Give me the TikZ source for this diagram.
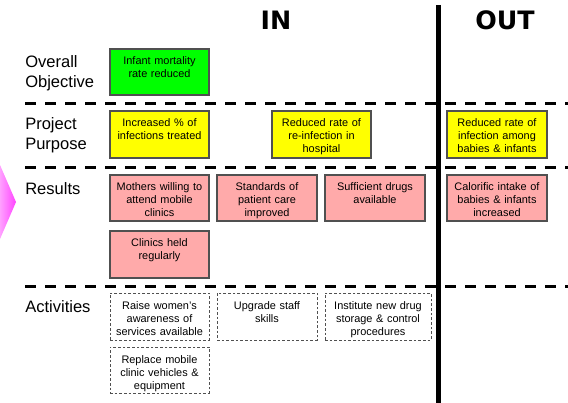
\documentclass[tikz,border=0pt]{standalone}
\usepackage{fontspec}
\setmainfont{Liberation Sans}
\newfontfamily\headfont{DejaVu Sans}
\usetikzlibrary{fit}
\definecolor{boxgreen}{HTML}{00FF00}
\definecolor{boxyellow}{HTML}{FFFF00}
\definecolor{boxpink}{HTML}{FFAAAA}
\definecolor{boxborder}{HTML}{505050}
\definecolor{chevlight}{HTML}{FFA0FF}
\definecolor{chevdark}{HTML}{FF44FF}
\tikzset{
  box/.style={draw=boxborder, line width=0.9pt, inner sep=0pt},
  greenbox/.style={box, fill=boxgreen},
  yellowbox/.style={box, fill=boxyellow},
  pinkbox/.style={box, fill=boxpink},
  actbox/.style={draw=boxborder, line width=0.6pt, dash pattern=on 2pt off 1.5pt, inner sep=0pt, fill=white},
  txt/.style={anchor=north, align=center, inner sep=0pt, text width=72pt,
    font=\fontsize{8.2}{9.8}\selectfont},
  rowlabel/.style={anchor=north west, align=left, inner sep=0pt,
    font=\fontsize{12.4}{15}\selectfont},
  head/.style={anchor=base, inner sep=0pt, font=\headfont\bfseries\fontsize{19}{20}\selectfont},
  sepline/.style={line width=2.25pt, dash pattern=on 8.25pt off 6.75pt},
  divider/.style={line width=3.75pt}
}
\begin{document}
\begin{tikzpicture}[x=0.75pt,y=-0.75pt]
\useasboundingbox (0,0) rectangle (568,403);
% chevron at left edge
\shade[left color=chevlight, right color=chevdark] (0,165) -- (16,202) -- (0,239) -- cycle;

% separators
\coordinate (s1a) at (25,104); \coordinate (s1b) at (568,104);
\coordinate (s2a) at (25,167); \coordinate (s2b) at (568,167);
\coordinate (s3a) at (25,286); \coordinate (s3b) at (568,286);
\draw[sepline] (s1a) -- (s1b);
\draw[sepline] (s2a) -- (s2b);
\draw[sepline] (s3a) -- (s3b);
\coordinate (vtop) at (438,5); \coordinate (vbot) at (438,403);
\draw[divider] (vtop) -- (vbot);

% headings
\node[head] (hin) at (276,30) {IN};
\node[head] (hout) at (505,30) {OUT};

% row labels
\node[rowlabel] (l1) at (25,55) {Overall\\Objective};
\node[rowlabel] (l2) at (25,117) {Project\\Purpose};
\node[rowlabel] (l3) at (25,182) {Results};
\node[rowlabel] (l4) at (25,300) {Activities};

% overall objective
\node[greenbox, fit={(110,49) (209,95)}] (oo) {};
\node[txt] (oot) at ([yshift=-6.2pt]oo.north) {Infant mortality\\rate reduced};

% project purpose
\node[yellowbox, fit={(110,111) (209,158)}] (p1) {};
\node[txt] (p1t) at ([yshift=-6.2pt]p1.north) {Increased \% of\\infections treated};
\node[yellowbox, fit={(272,111) (371,158)}] (p2) {};
\node[txt] (p2t) at ([yshift=-6.2pt]p2.north) {Reduced rate of\\re-infection in\\hospital};
\node[yellowbox, fit={(447,111) (547,158)}] (p3) {};
\node[txt] (p3t) at ([yshift=-6.2pt]p3.north) {Reduced rate of\\infection among\\babies \& infants};

% results
\node[pinkbox, fit={(110,175) (209,221)}] (r1) {};
\node[txt] (r1t) at ([yshift=-6.2pt]r1.north) {Mothers willing to\\attend mobile\\clinics};
\node[pinkbox, fit={(217,175) (317,221)}] (r2) {};
\node[txt] (r2t) at ([yshift=-6.2pt]r2.north) {Standards of\\patient care\\improved};
\node[pinkbox, fit={(325,175) (425,221)}] (r3) {};
\node[txt] (r3t) at ([yshift=-6.2pt]r3.north) {Sufficient drugs\\available};
\node[pinkbox, fit={(447,175) (547,221)}] (r4) {};
\node[txt] (r4t) at ([yshift=-6.2pt]r4.north) {Calorific intake of\\babies \& infants\\increased};
\node[pinkbox, fit={(110,231) (209,278)}] (r5) {};
\node[txt] (r5t) at ([yshift=-6.2pt]r5.north) {Clinics held\\regularly};

% activities
\node[actbox, fit={(110,293) (209,340)}] (a1) {};
\node[txt] (a1t) at ([yshift=-6.2pt]a1.north) {Raise women’s\\awareness of\\services available};
\node[actbox, fit={(217,293) (317,340)}] (a2) {};
\node[txt] (a2t) at ([yshift=-6.2pt]a2.north) {Upgrade staff\\skills};
\node[actbox, fit={(325,293) (431,340)}] (a3) {};
\node[txt] (a3t) at ([yshift=-6.2pt]a3.north) {Institute new drug\\storage \& control\\procedures};
\node[actbox, fit={(110,347) (209,393)}] (a4) {};
\node[txt] (a4t) at ([yshift=-6.2pt]a4.north) {Replace mobile\\clinic vehicles \&\\equipment};
\end{tikzpicture}
\end{document}
